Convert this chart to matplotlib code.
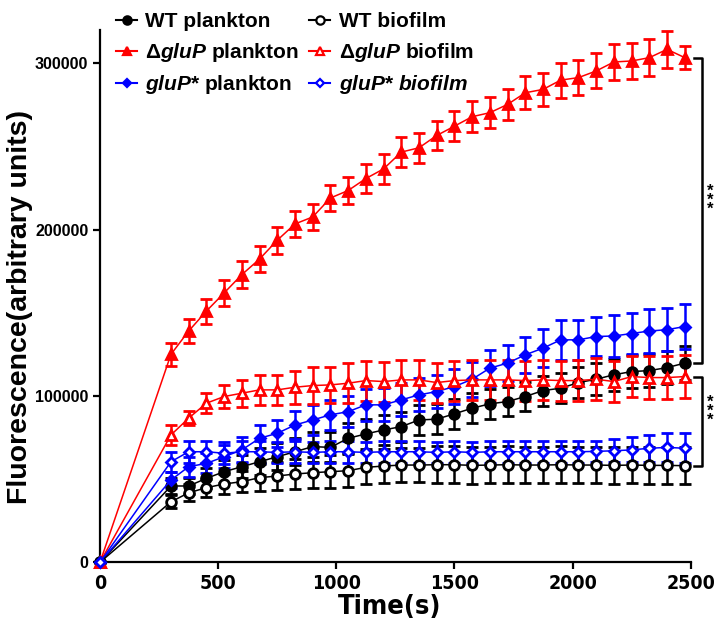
import matplotlib.pyplot as plt
from matplotlib.lines import Line2D

plt.rcParams['font.family'] = 'Liberation Sans'
plt.rcParams['font.weight'] = 'bold'
plt.rcParams['axes.labelweight'] = 'bold'
plt.rcParams['mathtext.fontset'] = 'custom'
plt.rcParams['mathtext.it'] = 'Liberation Sans:italic:bold'
plt.rcParams['mathtext.rm'] = 'Liberation Sans:bold'

# time points (s)
time = [0, 300, 375, 450, 525, 600, 675, 750, 825, 900, 975, 1050, 1125, 1200,
        1275, 1350, 1425, 1500, 1575, 1650, 1725, 1800, 1875, 1950, 2025, 2100,
        2175, 2250, 2325, 2400, 2475]

wt_plank = [0, 45800, 45800, 50400, 54400, 57400, 60400, 63400, 66400, 69500,
            69000, 74500, 77100, 79500, 81500, 85500, 86000, 89200, 92600, 95200,
            96600, 99600, 103200, 104600, 108000, 110000, 112700, 114600, 115200,
            117000, 119700]
wt_plank_err = [0, 5000, 5000, 6000, 7000, 7000, 8000, 8000, 8000, 9000, 9000,
                9000, 9000, 9000, 9000, 9000, 9000, 9000, 9000, 9000, 9000, 9000,
                9000, 9000, 9500, 9500, 9500, 10000, 10000, 10000, 10000]

wt_bio = [0, 36300, 41700, 44800, 47000, 48400, 50800, 51800, 53000, 53800,
          54400, 55000, 57000, 57800, 58400, 58400, 58600, 58600, 58200, 58400,
          58600, 58400, 58400, 58600, 58400, 58400, 58200, 58400, 58200, 58200,
          58000]
wt_bio_err = [0, 4000, 5000, 5500, 6000, 6500, 8000, 8500, 9000, 9500, 10000,
              10000, 10000, 10000, 10500, 10500, 11000, 11000, 11000, 11000,
              11000, 11000, 11000, 11000, 11000, 11000, 11000, 11000, 11000,
              11000, 11000]

dglup_plank = [0, 125000, 139000, 151000, 161900, 172900, 182300, 193600,
               203400, 207600, 219000, 223500, 230700, 236500, 246600, 249200,
               256600, 262200, 267900, 270300, 275300, 282300, 284300, 289900,
               291400, 295400, 300800, 301400, 303400, 308400, 303400]
dglup_plank_err = [0, 7000, 7000, 7500, 8000, 8000, 8000, 8000, 8000, 8000,
                   8000, 8000, 8500, 9000, 9000, 9000, 9000, 9000, 9500, 9500,
                   9500, 10000, 10000, 10500, 10500, 10500, 11000, 11000, 11000,
                   11000, 7000]

dglup_bio = [0, 76500, 86600, 95600, 99600, 101600, 103600, 103600, 105200,
             106200, 106600, 107600, 109200, 108600, 109600, 109600, 108000,
             109200, 109600, 109600, 109600, 109200, 109600, 109200, 109200,
             110000, 108600, 111600, 111000, 111000, 111600]
dglup_bio_err = [0, 6000, 4000, 6000, 7000, 8000, 9000, 9000, 10000, 11000,
                 11000, 12000, 12000, 12000, 12000, 12000, 12000, 12000, 12000,
                 12000, 12000, 12000, 12000, 12000, 12500, 12500, 12500, 12500,
                 13000, 13000, 13000]

gluPs_plank = [0, 49400, 57400, 59400, 63400, 67500, 74500, 77500, 82500, 85500,
               88600, 90500, 94600, 94600, 97600, 100600, 102600, 105600, 110000,
               116700, 119700, 124700, 128700, 133700, 133700, 135700, 136000,
               137500, 139000, 139800, 141700]
gluPs_plank_err = [0, 5000, 6000, 6000, 7000, 7500, 8000, 8000, 8500, 9000,
                   9000, 9500, 9500, 10000, 10000, 10000, 10000, 10500, 10500,
                   11000, 11000, 11000, 11500, 12000, 12000, 12000, 12500, 12500,
                   13000, 13000, 13500]

gluPs_bio = [0, 60400, 66400, 66400, 65500, 66400, 66400, 66000, 66400, 66000,
             66400, 66400, 66000, 66400, 66400, 66400, 66000, 66400, 66000, 66400,
             66400, 66400, 66400, 66400, 66400, 66600, 67000, 67500, 68500,
             69000, 68500]
gluPs_bio_err = [0, 6000, 6500, 6500, 6500, 6500, 6500, 6500, 6500, 6500, 6500,
                 6500, 6500, 6500, 6500, 6500, 6500, 6500, 6500, 6500, 6500,
                 6500, 6500, 6500, 6500, 6500, 7000, 7500, 8000, 8500, 9000]

labels = ['WT plankton', r'$\Delta\mathit{gluP}$ plankton', r'$\mathit{gluP}$* plankton',
          'WT biofilm', r'$\Delta\mathit{gluP}$ biofilm', r'$\mathit{gluP}$* $\mathit{biofilm}$']
values = [wt_plank, dglup_plank, gluPs_plank, wt_bio, dglup_bio, gluPs_bio]
errors = [wt_plank_err, dglup_plank_err, gluPs_plank_err,
          wt_bio_err, dglup_bio_err, gluPs_bio_err]
colors = ['black', '#ff0000', '#0000ff', 'black', '#ff0000', '#0000ff']
markers = ['o', '^', 'D', 'o', '^', 'D']
msizes = [7, 7, 5, 7, 7, 5]
filled = [True, True, True, False, False, False]

fig = plt.figure(figsize=(7.15, 6.26), dpi=100)
ax = fig.add_axes([0.14, 0.102, 0.826, 0.85])

handles = []
for y, e, c, m, ms, f in zip(values, errors, colors, markers, msizes, filled):
    face = c if f else 'white'
    ax.errorbar(time, y, yerr=e, color=c, marker=m, markersize=ms,
                markerfacecolor=face, markeredgecolor=c, markeredgewidth=2,
                linewidth=1.1, elinewidth=1.8, capsize=4.5, capthick=1.8,
                clip_on=False, zorder=3)
    handles.append(Line2D([], [], color=c, marker=m, markersize=ms - 1,
                          markerfacecolor=face, markeredgecolor=c,
                          markeredgewidth=1.6, linewidth=1.5))

# significance brackets
for top, bot in [(dglup_plank[-1], wt_plank[-1]), (dglup_bio[-1], wt_bio[-1])]:
    ax.plot([2514, 2548, 2548, 2514], [top, top, bot, bot], color='black',
            linewidth=1.8, clip_on=False)
    ax.text(2584, (top + bot) / 2 + 6000, '*\n*\n*', ha='center', va='center',
            fontsize=12, linespacing=0.5)

ax.set_xlim(0, 2500)
ax.set_ylim(0, 320000)
ax.set_xticks([0, 500, 1000, 1500, 2000, 2500])
ax.set_yticks([0, 100000, 200000, 300000])
ax.spines['top'].set_visible(False)
ax.spines['right'].set_visible(False)
for s in ['left', 'bottom']:
    ax.spines[s].set_linewidth(1.6)
ax.tick_params(width=1.6, length=5)
ax.tick_params(axis='y', labelsize=11.5)
narrow = ['Liberation Sans Narrow', 'DejaVu Sans']
for lab in ax.get_xticklabels():
    lab.set_family(narrow)
    lab.set_stretch('condensed')
    lab.set_fontsize(14)

ax.set_xlabel('Time(s)', fontsize=19.5, family=narrow, fontstretch='condensed')
ax.xaxis.set_label_coords(0.49, -0.06)
ax.set_ylabel('Fluorescence(arbitrary units)', fontsize=20.5)
ax.yaxis.set_label_coords(-0.113, 0.48)

fig.legend(handles, labels, ncol=2, loc='upper left',
           bbox_to_anchor=(0.145, 1.0), frameon=False, fontsize=15,
           handlelength=1.0, handletextpad=0.4, columnspacing=0.5,
           labelspacing=0.45, borderaxespad=0.2)

fig.savefig('out.png', dpi=100)
